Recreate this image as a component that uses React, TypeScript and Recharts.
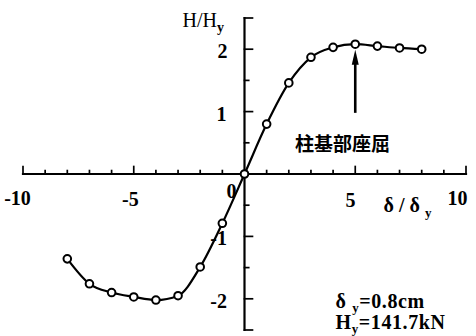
import { LineChart, Line, XAxis, YAxis, ReferenceLine, ReferenceDot } from 'recharts'

// skeleton curve: normalised displacement vs normalised load
const dispRatio = [-8, -7, -6, -5, -4, -3, -2, -1, 0, 1, 2, 3, 4, 5, 6, 7, 8]
const loadRatio = [-1.36, -1.76, -1.9, -1.97, -2.02, -1.95, -1.49, -0.79, 0, 0.8, 1.46, 1.87, 2.03, 2.08, 2.05, 2.02, 2.0]

const xMajorTicks = [-10, -5, 5, 10]
const xMinorTicks = [-9, -8, -7, -6, -4, -3, -2, -1, 1, 2, 3, 4, 6, 7, 8, 9]
const yMajorTicks = [-2.5, -2, -1, 1, 2, 2.5]
const yMinorTicks = [-1.5, -0.5, 0.5, 1.5]

const xTickLabels = ['-10', '-5', '0', '5', '10']
const yTickLabels = ['2', '1', '-1', '-2']

const data = dispRatio.map((x, i) => ({ x, y: loadRatio[i] }))

const SERIF = '"Liberation Serif", "Times New Roman", serif'
const CJK = '"Noto Sans CJK JP", "Noto Sans CJK SC", sans-serif'

// label anchors in chart units
const xLabelPos = [
  { x: -10.25, y: -0.5 },
  { x: -5.15, y: -0.51 },
  { x: -0.59, y: -0.385 },
  { x: 4.79, y: -0.53 },
  { x: 9.62, y: -0.5 },
]
const yLabelPos = [
  { x: -0.99, y: 1.86 },
  { x: -1.04, y: 0.85 },
  { x: -1.17, y: -1.14 },
  { x: -1.17, y: -2.15 },
]

const textDot = (key: string, x: number, y: number, draw: (cx: number, cy: number) => any) => (
  <ReferenceDot
    key={key}
    x={x}
    y={y}
    r={0}
    ifOverflow="visible"
    shape={(p: any) => draw(p.cx, p.cy)}
  />
)

const seg = (key: string, x1: number, y1: number, x2: number, y2: number, w = 1.7) => (
  <ReferenceLine
    key={key}
    segment={[{ x: x1, y: y1 }, { x: x2, y: y2 }]}
    ifOverflow="visible"
    shape={(p: any) => (
      <line x1={p.x1} y1={p.y1} x2={p.x2} y2={p.y2} stroke="#000" strokeWidth={w} strokeLinecap="square" />
    )}
  />
)

// upward arrow with a filled head at the end point
const arrowShape = (p: any) => {
  const { x1, y1, y2 } = p
  const top = Math.min(y1, y2)
  const bottom = Math.max(y1, y2)
  const cx = x1
  return (
    <g>
      <line x1={cx} y1={bottom} x2={cx} y2={top + 10} stroke="#000" strokeWidth={2.6} />
      <polygon points={`${cx},${top} ${cx - 3.5},${top + 15} ${cx + 3.5},${top + 15}`} fill="#000" />
    </g>
  )
}

const App = () => {
  return (
    <div style={{ position: 'absolute', left: 0, top: 0, width: 476, height: 336, background: '#fff' }}>
      <LineChart width={476} height={336} data={data} margin={{ top: 18, right: 10, bottom: 6, left: 23 }}>
        <XAxis type="number" dataKey="x" domain={[-10, 10]} hide allowDataOverflow />
        <YAxis type="number" domain={[-2.5, 2.5]} hide allowDataOverflow />

        {/* axes crossing at the origin */}
        {seg('ax-x', -10, 0, 10, 0, 2.2)}
        {seg('ax-y', 0, -2.5, 0, 2.5, 2.2)}
        {xMajorTicks.map((t) => seg(`xM${t}`, t, 0, t, 0.12))}
        {xMinorTicks.map((t) => seg(`xm${t}`, t, 0, t, 0.055))}
        {yMajorTicks.map((t) => seg(`yM${t}`, 0, t, 0.36, t))}
        {yMinorTicks.map((t) => seg(`ym${t}`, 0, t, 0.19, t))}

        {xTickLabels.map((s, i) =>
          textDot(`xl${i}`, xLabelPos[i].x, xLabelPos[i].y, (cx, cy) => (
            <text x={cx} y={cy} textAnchor="middle" fontFamily={SERIF} fontWeight="bold" fontSize={20} fill="#000">
              {s}
            </text>
          ))
        )}
        {yTickLabels.map((s, i) =>
          textDot(`yl${i}`, yLabelPos[i].x, yLabelPos[i].y, (cx, cy) => (
            <text x={cx} y={cy} textAnchor="middle" fontFamily={SERIF} fontWeight="bold" fontSize={20} fill="#000">
              {s}
            </text>
          ))
        )}

        {textDot('ytitle', -2.8, 2.36, (cx, cy) => (
          <text x={cx} y={cy} fontFamily={SERIF} fontSize={20} fill="#000">
            <tspan>H/H</tspan>
            <tspan dy={5} fontSize={14} fontWeight="bold">y</tspan>
          </text>
        ))}
        {textDot('xtitle', 6.28, -0.61, (cx, cy) => (
          <text x={cx} y={cy} fontFamily={SERIF} fontWeight="bold" fontSize={20} fill="#000">
            <tspan>δ / δ </tspan>
            <tspan dy={5} fontSize={13}>y</tspan>
          </text>
        ))}

        {textDot('buckle', 4.42, 0.51, (cx, cy) => (
          <text x={cx} y={cy} textAnchor="middle" dominantBaseline="central" fontFamily={CJK} fontWeight="bold" fontSize={19} fill="#000">
            柱基部座屈
          </text>
        ))}

        {textDot('dy', 4.11, -2.15, (cx, cy) => (
          <text x={cx} y={cy} fontFamily={SERIF} fontWeight="bold" fontSize={20} letterSpacing={0.6} fill="#000">
            <tspan>δ  </tspan>
            <tspan dy={4} fontSize={13}>y</tspan>
            <tspan dy={-4}>=0.8cm</tspan>
          </text>
        ))}
        {textDot('hy', 4.11, -2.48, (cx, cy) => (
          <text x={cx} y={cy} fontFamily={SERIF} fontWeight="bold" fontSize={20} letterSpacing={0.6} fill="#000">
            <tspan>H</tspan>
            <tspan dy={4} fontSize={13}>y</tspan>
            <tspan dy={-4}>=141.7kN</tspan>
          </text>
        ))}

        <ReferenceLine
          segment={[{ x: 5, y: 0.98 }, { x: 5, y: 1.99 }]}
          ifOverflow="visible"
          shape={arrowShape}
        />

        <Line
          type="monotone"
          dataKey="y"
          stroke="#000"
          strokeWidth={2.2}
          dot={{ r: 3.8, fill: '#fff', stroke: '#000', strokeWidth: 2 }}
          isAnimationActive={false}
        />
      </LineChart>
    </div>
  )
}

export default App
